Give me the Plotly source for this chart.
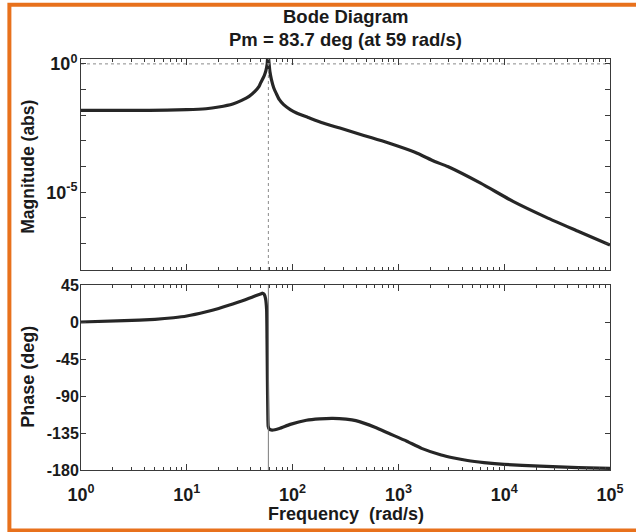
import plotly.graph_objects as go

# ---- frequency response samples (rad/s) ----
freq_mag = [1, 4.4, 10, 15.2, 20, 27.2, 33, 38.8, 44, 48.2, 50, 53.6, 56,
            57.5, 58.6, 59.8, 61, 63, 66.4, 70, 75, 82.3, 95, 109, 140, 194,
            280, 396, 560, 809, 1433, 2203, 2924, 5984, 12246, 25000, 51170,
            100000]
magnitude = [0.0155, 0.0155, 0.0164, 0.0179, 0.0209, 0.0274, 0.038, 0.0542,
             0.085, 0.133, 0.186, 0.328, 0.56, 1.0, 2.8, 1.12, 0.50, 0.25,
             0.115, 0.071, 0.0403, 0.0257, 0.0166, 0.0122, 0.0082, 0.00495,
             0.00316, 0.00202, 0.00132, 0.00082, 0.000359, 0.000158, 0.0001,
             2.25e-5, 4.3e-6, 1.05e-6, 2.89e-7, 8.7e-8]

freq_phase = [1, 2.57, 5, 7.5, 10, 15.3, 20, 27.2, 33, 38.8, 44, 49.8, 52,
              54, 55.5, 56.8, 57.3, 57.8, 58.3, 58.8, 60, 64, 75, 95, 135,
              180, 240, 320, 396, 600, 809, 1200, 1656, 2540, 3260, 4500,
              6430, 10000, 21700, 50000, 100000]
phase_deg = [0, 1.6, 3.3, 5.2, 7.3, 12.5, 16.5, 21.9, 25.5, 28.8, 31.5, 34.0,
             35.0, 33.5, 28.5, 15, -20, -70, -110, -127, -130, -131.5,
             -129.5, -124.5, -119.5, -117.8, -117.2, -118.2, -120, -128,
             -135.4, -145, -153.7, -161.8, -165.1, -168.5, -171, -173.2,
             -175.2, -177, -178]

crossover_freq = 59
title_lines = ["Bode Diagram", "Pm = 83.7 deg (at 59 rad/s)"]

x_ticks = [1, 10, 100, 1e3, 1e4, 1e5]
x_tick_text = ["10<sup>0</sup>", "10<sup>1</sup>", "10<sup>2</sup>",
               "10<sup>3</sup>", "10<sup>4</sup>", "10<sup>5</sup>"]
x_minor = [m * 10 ** d for d in range(5) for m in range(2, 10)]

mag_ticks = [1e0, 1e-1, 1e-2, 1e-3, 1e-4, 1e-5, 1e-6, 1e-7, 1e-8]
mag_tick_text = ["10<sup>0</sup>", "", "", "", "", "10<sup>-5</sup>", "", "", ""]

phase_ticks = [45, 0, -45, -90, -135, -180]
phase_tick_text = ["45", "0", "-45", "-90", "-135", "-180"]

x_label = "Frequency  (rad/s)"
mag_label = "Magnitude (abs)"
phase_label = "Phase (deg)"

# ---- page geometry ----
W, H = 636, 532
L, R, T, B = 81, 18, 59, 62
PW, PH = W - L - R, H - T - B


def px_x(p):
    return (p - L) / PW


def px_y(p):
    return (H - B - p) / PH


FONT = "Liberation Sans, Arial, sans-serif"
INK = "#1a1a1a"
CURVE = "#262626"
AX = "#3a3a3a"

fig = go.Figure()

# Magnitude curve
fig.add_trace(go.Scatter(x=freq_mag, y=magnitude, mode="lines",
                         line=dict(color=CURVE, width=3.2, shape="spline",
                                   smoothing=0.6),
                         xaxis="x", yaxis="y", showlegend=False))
# Phase curve
fig.add_trace(go.Scatter(x=freq_phase, y=phase_deg, mode="lines",
                         line=dict(color=CURVE, width=3.2, shape="spline",
                                   smoothing=0.5),
                         xaxis="x2", yaxis="y2", showlegend=False))

# 0 dB reference line and crossover marker in the magnitude panel
fig.add_trace(go.Scatter(x=[x_ticks[0], x_ticks[-1]], y=[1, 1], mode="lines",
                         line=dict(color="#8a8a8a", width=1, dash="dot"),
                         xaxis="x", yaxis="y", showlegend=False))
fig.add_trace(go.Scatter(x=[crossover_freq, crossover_freq],
                         y=[10 ** -8.03, 10 ** 0.19], mode="lines",
                         line=dict(color="#8a8a8a", width=1, dash="dot"),
                         xaxis="x", yaxis="y", showlegend=False))
# crossover marker in the phase panel
fig.add_trace(go.Scatter(x=[crossover_freq, crossover_freq], y=[-180, 45],
                         mode="lines", line=dict(color="#7a7a7a", width=1),
                         xaxis="x2", yaxis="y2", showlegend=False))

common_x = dict(type="log", range=[0, 5], showgrid=False, zeroline=False,
                showline=True, linecolor=AX, linewidth=1, mirror="ticks",
                ticks="inside", ticklen=6, tickcolor=AX, tickwidth=1,
                tickmode="array", tickvals=x_ticks,
                minor=dict(tickmode="array", tickvals=x_minor, ticks="inside",
                           ticklen=3, tickcolor=AX, tickwidth=1))

pow_font = dict(family=FONT, size=18, color=INK, weight="bold")
deg_font = dict(family=FONT, size=16, color=INK, weight="bold")
mag_dom = [px_y(270), 1]
ph_dom = [0, px_y(285)]

fig.update_layout(
    width=W, height=H,
    margin=dict(l=L, r=R, t=T, b=B),
    paper_bgcolor="white", plot_bgcolor="white",
    xaxis=dict(common_x, anchor="y", domain=[0, 1], showticklabels=False,
               matches="x2"),
    yaxis=dict(type="log", range=[-8.03, 0.19], domain=mag_dom,
               showgrid=False, zeroline=False, showline=True, linecolor=AX,
               linewidth=1, mirror="ticks", ticks="inside", ticklen=5,
               tickcolor=AX, tickmode="array", tickvals=mag_ticks,
               ticktext=mag_tick_text, tickfont=pow_font, anchor="x",
               ticklabelstandoff=-1),
    xaxis2=dict(common_x, anchor="y2", domain=[0, 1], ticktext=x_tick_text,
                tickfont=pow_font, ticklabelstandoff=8),
    yaxis2=dict(range=[-180, 45], domain=ph_dom, showgrid=False,
                zeroline=False, showline=True, linecolor=AX, linewidth=1,
                mirror="ticks", ticks="inside", ticklen=5, tickcolor=AX,
                tickmode="array", tickvals=phase_ticks,
                ticktext=phase_tick_text, tickfont=deg_font, anchor="x2",
                ticklabelstandoff=-2),
    font=dict(family=FONT, color=INK),
)

title_font = dict(family=FONT, size=18.5, color=INK, weight="bold")
label_font = dict(family=FONT, size=18, color=INK, weight="bold")

ann = []
ann.append(dict(text=title_lines[0], x=px_x(350), y=px_y(17), xref="paper",
                yref="paper", showarrow=False, xanchor="center",
                yanchor="middle", font=title_font))
ann.append(dict(text=title_lines[1], x=px_x(350), y=px_y(40), xref="paper",
                yref="paper", showarrow=False, xanchor="center",
                yanchor="middle", font=title_font))
ann.append(dict(text=x_label, x=px_x(350), y=px_y(514), xref="paper",
                yref="paper", showarrow=False, xanchor="center",
                yanchor="middle", font=label_font))
ann.append(dict(text=mag_label, x=px_x(27), y=px_y(167), xref="paper",
                yref="paper", showarrow=False, xanchor="center",
                yanchor="middle", textangle=-90,
                font=dict(label_font, size=17.5)))
ann.append(dict(text=phase_label, x=px_x(27), y=px_y(377), xref="paper",
                yref="paper", showarrow=False, xanchor="center",
                yanchor="middle", textangle=-90, font=label_font))
fig.update_layout(annotations=ann)

# orange frame around the figure
fig.add_shape(type="rect", xref="paper", yref="paper",
              x0=px_x(8.3), x1=px_x(648), y0=px_y(530.5), y1=px_y(4.7),
              line=dict(color="#E8711C", width=4), fillcolor="rgba(0,0,0,0)",
              layer="above")

fig.write_html("out.html")
